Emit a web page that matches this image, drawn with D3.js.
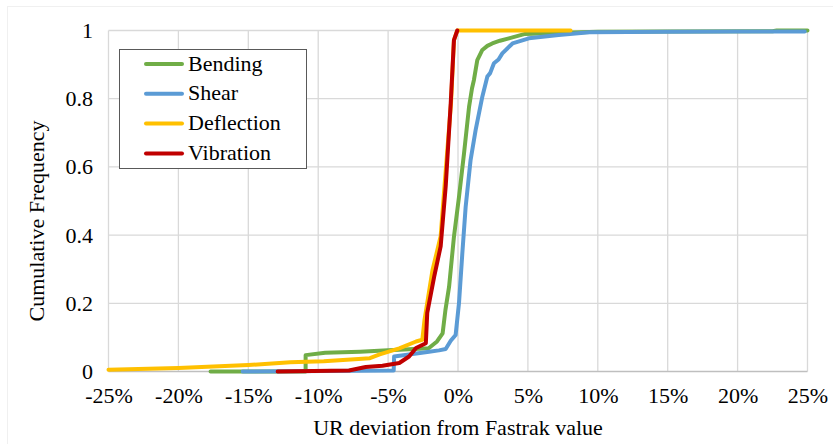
<!DOCTYPE html>
<html>
<head>
<meta charset="utf-8">
<script src="https://cdn.jsdelivr.net/npm/d3@7"></script>
<style>
html,body{margin:0;padding:0;background:#fff;}
svg text{font-family:"Liberation Serif","Times New Roman",Times,"DejaVu Serif",serif !important;}
</style>
</head>
<body>
<svg id="chart" width="833" height="444"></svg>
<script>
// Data: [deviation (%), cumulative frequency]
const bending = [[-17.7,0],[-10.9,0],[-10.9,0.048],[-9.5,0.055],[-7,0.058],[-5,0.062],[-4.2,0.064],[-2.1,0.068],[-1.5,0.088],[-1.1,0.112],[-0.9,0.18],[-0.64,0.248],[-0.29,0.395],[0.07,0.512],[0.43,0.639],[0.79,0.776],[1.0,0.83],[1.14,0.855],[1.38,0.913],[1.74,0.943],[2.1,0.955],[2.45,0.962],[3.0,0.97],[3.64,0.977],[4.8,0.99],[7,0.993],[10,0.996],[15,0.997],[22.5,0.998],[22.8,1.0],[25,1.0]];
const shear = [[-15.4,0],[-4.6,0.003],[-4.57,0.044],[-3.5,0.05],[-2.07,0.058],[-1.36,0.062],[-0.88,0.066],[-0.52,0.09],[-0.17,0.107],[0.07,0.2],[0.31,0.347],[0.55,0.484],[0.9,0.62],[1.26,0.708],[1.74,0.806],[2.1,0.865],[2.3,0.875],[2.57,0.904],[2.9,0.915],[3.17,0.933],[3.9,0.962],[5.07,0.977],[7.2,0.987],[9.4,0.995],[15,0.996],[20,0.997],[24.8,0.997]];
const deflection = [[-25,0.005],[-20,0.01],[-15,0.019],[-12,0.027],[-9.6,0.03],[-6.3,0.039],[-5.6,0.05],[-4.2,0.068],[-3,0.088],[-2.55,0.093],[-2.4,0.15],[-1.83,0.296],[-1.24,0.397],[-1.0,0.525],[-0.5,0.787],[-0.29,0.972],[-0.05,1],[8.05,1]];
const vibration = [[-12.9,0],[-7.8,0.003],[-6.6,0.013],[-5.4,0.017],[-4.2,0.025],[-3.5,0.044],[-3.0,0.069],[-2.3,0.083],[-2.2,0.172],[-1.7,0.279],[-1.24,0.367],[-0.88,0.543],[-0.52,0.787],[-0.29,0.972],[-0.05,1.0]];

const seriesNames = ["Bending","Shear","Deflection","Vibration"];
const seriesColors = ["#70AD47","#5B9BD5","#FFC000","#C00000"];
const seriesData = [bending, shear, deflection, vibration];

const xTicks = [-25,-20,-15,-10,-5,0,5,10,15,20,25];
const yTicks = [0,0.2,0.4,0.6,0.8,1];

const svg = d3.select("#chart");
const x = d3.scaleLinear().domain([-25,25]).range([108.5,807.5]);
const y = d3.scaleLinear().domain([0,1]).range([371.5,30.5]);
const FONT = '"Liberation Serif","Times New Roman",Times,"DejaVu Serif",serif';

// faint chart border
svg.append("rect").attr("x",7.5).attr("y",6.5).attr("width",900).attr("height",600)
  .attr("fill","none").attr("stroke","#f0f0f0");

// gridlines
const g = svg.append("g");
g.selectAll(".vg").data(xTicks).join("line")
  .attr("x1",d=>x(d)).attr("x2",d=>x(d)).attr("y1",y(1)).attr("y2",y(0))
  .attr("stroke","#D9D9D9").attr("stroke-width",1.3);
g.selectAll(".hg").data(yTicks.filter(d=>d>0)).join("line")
  .attr("x1",x(-25)).attr("x2",x(25)).attr("y1",d=>y(d)).attr("y2",d=>y(d))
  .attr("stroke","#D9D9D9").attr("stroke-width",1.3);
g.append("line").attr("x1",x(-25)).attr("x2",x(25)).attr("y1",y(0)).attr("y2",y(0))
  .attr("stroke","#BFBFBF").attr("stroke-width",1.3);

// axes labels via d3 axes
const xAxis = d3.axisBottom(x).tickValues(xTicks).tickSize(0).tickPadding(0)
  .tickFormat(d=>d+"%");
const xa = svg.append("g").attr("transform","translate(0,"+y(0)+")").call(xAxis)
  .attr("font-family",FONT).attr("font-size",22);
xa.select(".domain").remove();
xa.selectAll("text").attr("fill","#000").attr("dy",null).attr("y",31);

const yAxis = d3.axisLeft(y).tickValues(yTicks).tickSize(0).tickPadding(0)
  .tickFormat(d=>d===0?"0":(d===1?"1":d3.format(".1f")(d)));
const ya = svg.append("g").attr("transform","translate(93,0)").call(yAxis)
  .attr("font-family",FONT).attr("font-size",22);
ya.select(".domain").remove();
ya.selectAll("text").attr("fill","#000").attr("dy","0.32em");

// lines
const line = d3.line().x(d=>x(d[0])).y(d=>y(d[1]));
seriesData.forEach((data,i)=>{
  svg.append("path").datum(data).attr("d",line)
    .attr("fill","none").attr("stroke",seriesColors[i]).attr("stroke-width",4)
    .attr("stroke-linejoin","round").attr("stroke-linecap","round");
});

// axis titles
svg.append("text").attr("x",458).attr("y",435).attr("text-anchor","middle")
  .attr("font-family",FONT).attr("font-size",22).text("UR deviation from Fastrak value");
svg.append("text").attr("transform","translate(44,221) rotate(-90)").attr("text-anchor","middle")
  .attr("font-family",FONT).attr("font-size",22).text("Cumulative Frequency");

// legend
const lg = svg.append("g");
lg.append("rect").attr("x",119.5).attr("y",49.5).attr("width",187).attr("height",119)
  .attr("fill","#fff").attr("stroke","#595959").attr("stroke-width",1);
seriesNames.forEach((n,i)=>{
  const yy = 64 + i*29.8;
  lg.append("line").attr("x1",146).attr("x2",182).attr("y1",yy).attr("y2",yy)
    .attr("stroke",seriesColors[i]).attr("stroke-width",4).attr("stroke-linecap","round");
  lg.append("text").attr("x",188).attr("y",yy+6.5).attr("font-family",FONT).attr("font-size",22).text(n);
});
</script>
</body>
</html>
